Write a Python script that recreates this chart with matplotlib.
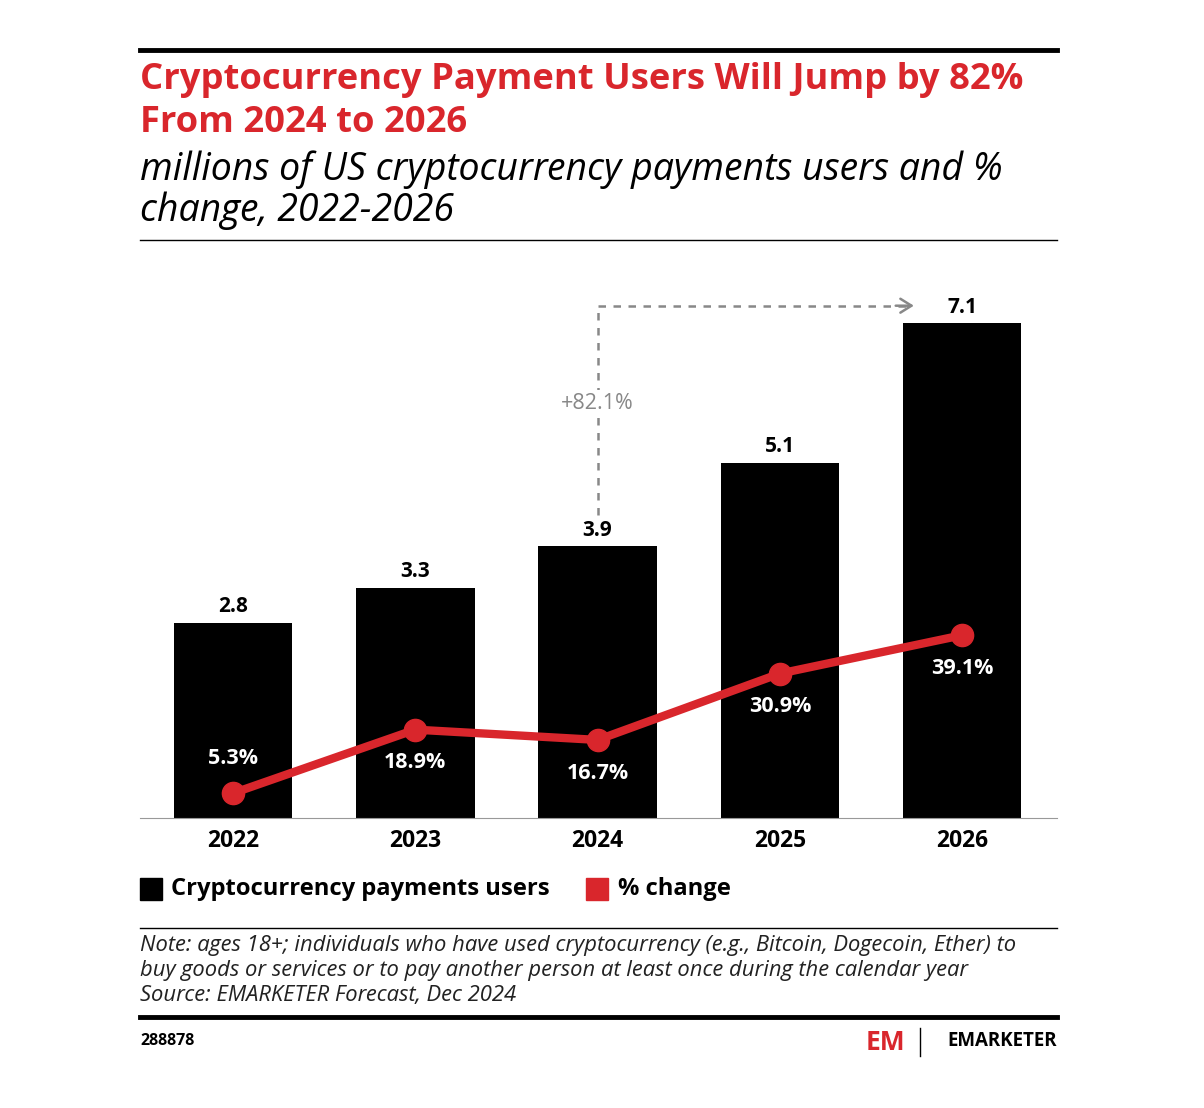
import matplotlib
matplotlib.use("Agg")
import matplotlib.pyplot as plt
from matplotlib.lines import Line2D
from matplotlib.patches import Rectangle

years = ["2022", "2023", "2024", "2025", "2026"]
users = [2.8, 3.3, 3.9, 5.1, 7.1]
pct_change = [5.3, 18.9, 16.7, 30.9, 39.1]
pct_labels = ["5.3%", "18.9%", "16.7%", "30.9%", "39.1%"]

W, H = 1204, 1108
plt.rcParams["font.family"] = "Open Sans"
fig = plt.figure(figsize=(W/100, H/100), dpi=100)
fx = lambda x: x / W
fy = lambda y: 1 - y / H

def hline(y, x0, x1, lw, color="black"):
    fig.add_artist(Line2D([fx(x0), fx(x1)], [fy(y), fy(y)], lw=lw, color=color, transform=fig.transFigure))

hline(50, 140, 1057, 3.5)
fig.text(fx(140), fy(80), "Cryptocurrency Payment Users Will Jump by 82%", color="#d9262c", fontsize=26.2, fontweight="bold", va="center")
fig.text(fx(140), fy(123), "From 2024 to 2026", color="#d9262c", fontsize=26.2, fontweight="bold", va="center")
fig.text(fx(140), fy(170), "millions of US cryptocurrency payments users and %", fontsize=27, style="italic", va="center")
fig.text(fx(140), fy(211), "change, 2022-2026", fontsize=27, style="italic", va="center")
hline(240, 140, 1057, 1.0)

ax_top, ax_bot = 280, 818
ax = fig.add_axes([fx(140), fy(ax_bot), fx(1057) - fx(140), (ax_bot - ax_top) / H])
x = list(range(len(years)))
ax.bar(x, users, width=0.65, color="black", zorder=2)
ax.set_xlim(-0.51, 4.52)
ax.set_ylim(0, (ax_bot - ax_top) / 69.7)
for xi, v in zip(x, users):
    ax.text(xi, v + 0.08, f"{v}", ha="center", va="bottom", fontsize=15, fontweight="bold")
for s in ["top", "left", "right"]:
    ax.spines[s].set_visible(False)
ax.spines["bottom"].set_color("#999999")
ax.set_yticks([])
ax.set_xticks(x)
ax.set_xticklabels(years, fontsize=16.5, fontweight="bold")
ax.tick_params(axis="x", length=0, pad=8)

ax2 = ax.twinx()
ax2.set_ylim(0, (ax_bot - ax_top) / 4.675)
ax2.axis("off")
ax2.plot(x, pct_change, color="#d9262c", lw=6, marker="o", ms=16, zorder=3)
offs = [(0, 25), (0, -24), (0, -24), (0, -24), (0, -24)]
for xi, v, lab, o in zip(x, pct_change, pct_labels, offs):
    ax2.annotate(lab, (xi, v), xytext=o, textcoords="offset points", ha="center", va="center",
                 color="white", fontsize=15.5, fontweight="bold")

gray = "#888888"
ax.plot([2, 2], [users[2] + 0.45, 7.35], ls=(0, (3, 3)), color=gray, lw=1.8, clip_on=False)
ax.plot([2, 3.72], [7.35, 7.35], ls=(0, (3, 3)), color=gray, lw=1.8, clip_on=False)
ax.annotate("", xy=(3.75, 7.35), xytext=(3.62, 7.35),
            arrowprops=dict(arrowstyle="->,head_length=0.8,head_width=0.5", color=gray, lw=1.8))
ax.text(2, 5.95, "+82.1%", ha="center", va="center", fontsize=15.5, color=gray,
        bbox=dict(facecolor="white", edgecolor="none", pad=2))

fig.add_artist(Rectangle((fx(140), fy(900)), 22/W, 22/H, color="black", transform=fig.transFigure))
fig.text(fx(171), fy(889), "Cryptocurrency payments users", fontsize=17.1, fontweight="bold", va="center")
fig.add_artist(Rectangle((fx(586), fy(900)), 22/W, 22/H, color="#d9262c", transform=fig.transFigure))
fig.text(fx(618), fy(889), "% change", fontsize=17.1, fontweight="bold", va="center")

hline(928, 140, 1057, 1.0)
notes = ["Note: ages 18+; individuals who have used cryptocurrency (e.g., Bitcoin, Dogecoin, Ether) to",
         "buy goods or services or to pay another person at least once during the calendar year",
         "Source: EMARKETER Forecast, Dec 2024"]
for i, t in enumerate(notes):
    fig.text(fx(140), fy(945 + 25.5 * i), t, fontsize=15.8, style="italic", va="center", color="#222222")
hline(1017, 140, 1057, 3.5)
fig.text(fx(140), fy(1041), "288878", fontsize=11.5, fontweight="bold", va="center")
fig.text(fx(866), fy(1042), "EM", fontsize=19, fontweight="bold", color="#d9262c", va="center")
fig.add_artist(Line2D([fx(920), fx(920)], [fy(1028), fy(1056)], lw=1, color="black", transform=fig.transFigure))
fig.text(fx(1057), fy(1041), "EMARKETER", fontsize=13.5, fontweight="bold", va="center", ha="right")

fig.savefig("out.png", dpi=100)
